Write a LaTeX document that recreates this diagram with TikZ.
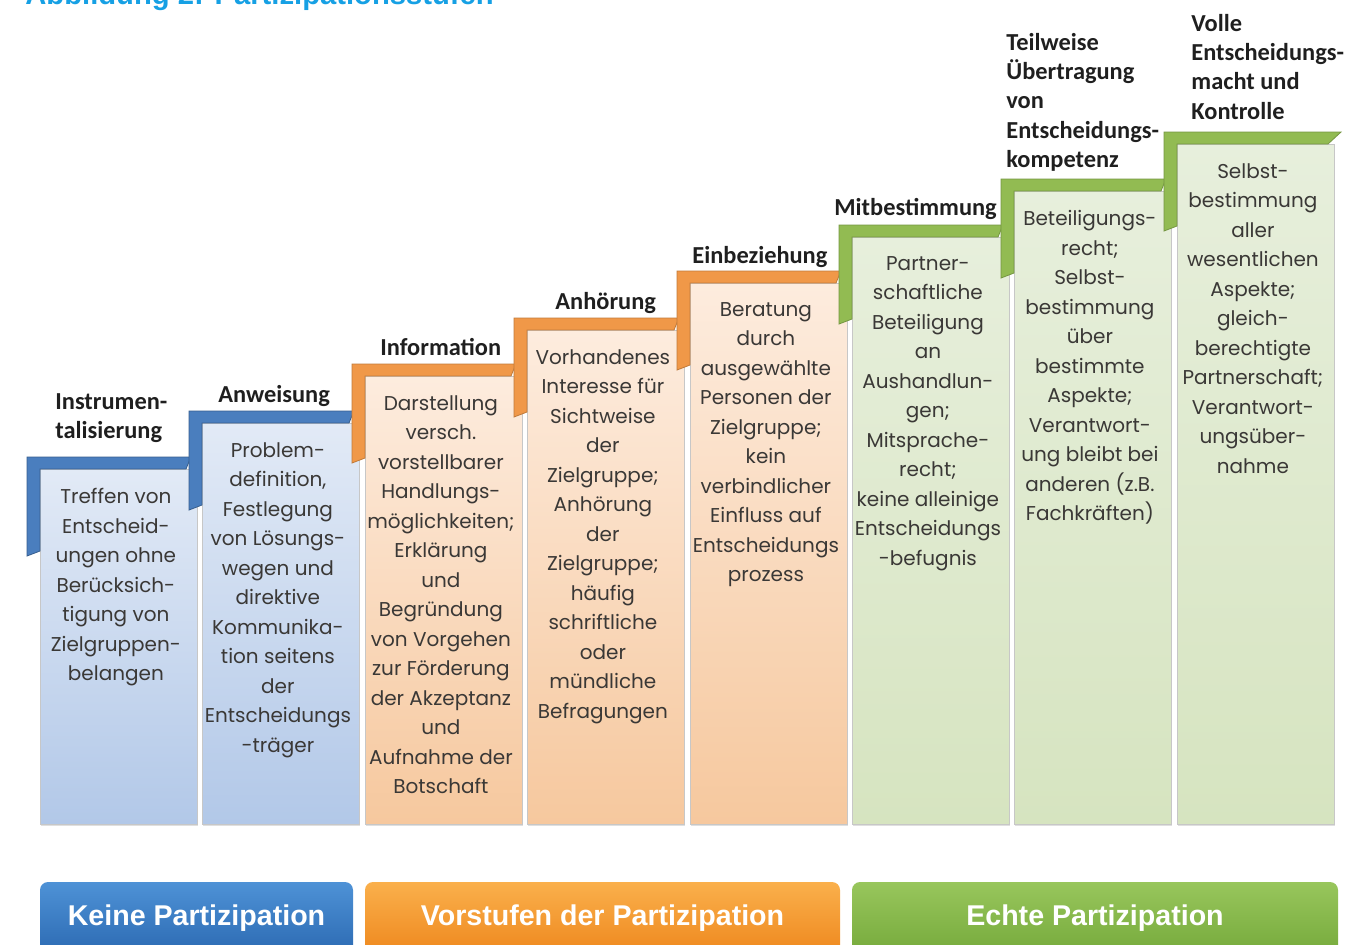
\documentclass[tikz,border=0pt]{standalone}
\usepackage{fontspec}
\setmainfont{Poppins}
\newfontfamily\titelfont{Carlito}
\newfontfamily\knopffont{Liberation Sans}
\usepackage{tikz}
\usetikzlibrary{positioning, shadows}
\definecolor{abbblau}{RGB}{22,160,228}
\definecolor{balkenblau}{RGB}{74,126,190}
\definecolor{balkenorange}{RGB}{240,152,72}
\definecolor{balkengruen}{RGB}{146,187,82}
\definecolor{blauoben}{RGB}{226,234,246}
\definecolor{blauunten}{RGB}{178,200,232}
\definecolor{orangeoben}{RGB}{253,236,222}
\definecolor{orangeunten}{RGB}{246,200,158}
\definecolor{gruenoben}{RGB}{231,239,220}
\definecolor{gruenunten}{RGB}{214,228,192}
\definecolor{textgrau}{RGB}{58,56,54}
\tikzset{
    %Define style for the columns
    saeule/.style={
           rectangle,
           draw=black!22, line width=0.5pt,
           inner sep=0pt, outer sep=0pt,
           minimum width=78.5pt,
           anchor=north west,
           drop shadow={shadow xshift=0.6pt, shadow yshift=-1pt, opacity=0.25}},
 %
  blausaeule/.style={saeule, top color=blauoben, bottom color=blauunten},
  orangesaeule/.style={saeule, top color=orangeoben, bottom color=orangeunten},
  gruensaeule/.style={saeule, top color=gruenoben, bottom color=gruenunten},
 %
  blauwinkel/.style={fill=balkenblau, draw=balkenblau!75!black, line width=0.4pt},
  orangewinkel/.style={fill=balkenorange, draw=balkenorange!80!black, line width=0.4pt},
  gruenwinkel/.style={fill=balkengruen, draw=balkengruen!80!black, line width=0.4pt},
%
    % Define text styles
    stufentext/.style={
           font=\fontsize{10}{14.75}\selectfont,
           text=textgrau,
           align=center,
           inner sep=0pt},
    stufenname/.style={
           font=\titelfont\bfseries\fontsize{12.2}{14.6}\selectfont,
           text=black!88,
           align=left,
           anchor=north west,
           inner sep=0pt},
    knopf/.style={
           rectangle,
           rounded corners=4pt,
           text=white,
           font=\knopffont\bfseries\fontsize{14.3}{17}\selectfont,
           minimum height=36pt,
           inner sep=0pt}
}
\begin{document}
\begin{tikzpicture}[x=0.5pt,y=-0.5pt]
  \useasboundingbox (0,0) rectangle (1348,944);

  \node[anchor=base west, inner sep=0pt, text=abbblau,
        font=\knopffont\bfseries\fontsize{14.6}{17}\selectfont] (abb) at (25,4)
        {Abbildung 2: Partizipationsstufen};

  % columns
  \node[blausaeule, minimum height=177.5pt] (s1) at (40,469) {};
  \node[blausaeule, minimum height=200.5pt] (s2) at (202,423) {};
  \node[orangesaeule, minimum height=224pt] (s3) at (365,376) {};
  \node[orangesaeule, minimum height=247pt] (s4) at (527,330) {};
  \node[orangesaeule, minimum height=270.5pt] (s5) at (690,283) {};
  \node[gruensaeule, minimum height=293.5pt] (s6) at (852,237) {};
  \node[gruensaeule, minimum height=316.5pt] (s7) at (1014,191) {};
  \node[gruensaeule, minimum height=340pt] (s8) at (1177,144) {};

  % steps
  \filldraw[blauwinkel] (27,457) -- (191,457) -- (186,469) -- (40,469) -- (40,551) -- (27,556) -- cycle;
  \filldraw[blauwinkel] (189,411) -- (354,411) -- (349,423) -- (202,423) -- (202,505) -- (189,510) -- cycle;
  \filldraw[orangewinkel] (352,364) -- (516,364) -- (511,376) -- (365,376) -- (365,458) -- (352,463) -- cycle;
  \filldraw[orangewinkel] (514,318) -- (679,318) -- (674,330) -- (527,330) -- (527,412) -- (514,417) -- cycle;
  \filldraw[orangewinkel] (677,271) -- (841,271) -- (836,283) -- (690,283) -- (690,365) -- (677,370) -- cycle;
  \filldraw[gruenwinkel] (839,225) -- (1003,225) -- (998,237) -- (852,237) -- (852,319) -- (839,324) -- cycle;
  \filldraw[gruenwinkel] (1001,179) -- (1166,179) -- (1161,191) -- (1014,191) -- (1014,273) -- (1001,278) -- cycle;
  \filldraw[gruenwinkel] (1164,132) -- (1341,132) -- (1328,144) -- (1177,144) -- (1177,226) -- (1164,231) -- cycle;

  % stage names
  \node[stufenname] (instr) at (55,393) {Instrumen-\\talisierung};
  \node[stufenname] (anw) at (218,385) {Anweisung};
  \node[stufenname] (info) at (380,338) {Information};
  \node[stufenname] (anh) at (555,292) {Anhörung};
  \node[stufenname] (einb) at (692,246) {Einbeziehung};
  \node[stufenname] (mitb) at (834,198) {Mitbestimmung};
  \node[stufenname] (teil) at (1006,33) {Teilweise\\Übertragung\\von\\Entscheidungs-\\kompetenz};
  \node[stufenname] (voll) at (1191,14) {Volle\\Entscheidungs-\\macht und\\Kontrolle};

  % descriptions
  \node[stufentext, below=9.5pt of s1.north, xshift=-1.3pt] (instrtext)
    {Treffen von\\Entscheid-\\ungen ohne\\Berücksich-\\tigung von\\Zielgruppen-\\belangen};
  \node[stufentext, below=9.5pt of s2.north, xshift=-1.3pt] (anwtext)
    {Problem-\\definition,\\Festlegung\\von Lösungs-\\wegen und\\direktive\\Kommunika-\\tion seitens\\der\\Entscheidungs\\-träger};
  \node[stufentext, below=9.5pt of s3.north, xshift=-1.3pt] (infotext)
    {Darstellung\\versch.\\vorstellbarer\\Handlungs-\\möglichkeiten;\\Erklärung\\und\\Begründung\\von Vorgehen\\zur Förderung\\der Akzeptanz\\und\\Aufnahme der\\Botschaft};
  \node[stufentext, below=9.5pt of s4.north, xshift=-1.3pt] (anhtext)
    {Vorhandenes\\Interesse für\\Sichtweise\\der\\Zielgruppe;\\Anhörung\\der\\Zielgruppe;\\häufig\\schriftliche\\oder\\mündliche\\Befragungen};
  \node[stufentext, below=9.5pt of s5.north, xshift=-1.3pt] (einbtext)
    {Beratung\\durch\\ausgewählte\\Personen der\\Zielgruppe;\\kein\\verbindlicher\\Einfluss auf\\Entscheidungs\\prozess};
  \node[stufentext, below=9.5pt of s6.north, xshift=-1.3pt] (mitbtext)
    {Partner-\\schaftliche\\Beteiligung\\an\\Aushandlun-\\gen;\\Mitsprache-\\recht;\\keine alleinige\\Entscheidungs\\-befugnis};
  \node[stufentext, below=9.5pt of s7.north, xshift=-1.3pt] (teiltext)
    {Beteiligungs-\\recht;\\Selbst-\\bestimmung\\über\\bestimmte\\Aspekte;\\Verantwort-\\ung bleibt bei\\anderen (z.B.\\Fachkräften)};
  \node[stufentext, below=9.5pt of s8.north, xshift=-1.3pt] (volltext)
    {Selbst-\\bestimmung\\aller\\wesentlichen\\Aspekte;\\gleich-\\berechtigte\\Partnerschaft;\\Verantwort-\\ungsüber-\\nahme};

  % groups
  \node[knopf, minimum width=156.5pt,
        top color={rgb,255:red,78;green,146;blue,214}, bottom color={rgb,255:red,44;green,106;blue,178}]
        (keine) at (196.5,918) {Keine Partizipation};
  \node[knopf, minimum width=237.5pt,
        top color={rgb,255:red,250;green,176;blue,76}, bottom color={rgb,255:red,238;green,136;blue,30}]
        (vorstufen) at (602.5,918) {Vorstufen der Partizipation};
  \node[knopf, minimum width=243pt,
        top color={rgb,255:red,152;green,198;blue,92}, bottom color={rgb,255:red,118;green,170;blue,60}]
        (echte) at (1095,918) {Echte Partizipation};
\end{tikzpicture}
\end{document}
